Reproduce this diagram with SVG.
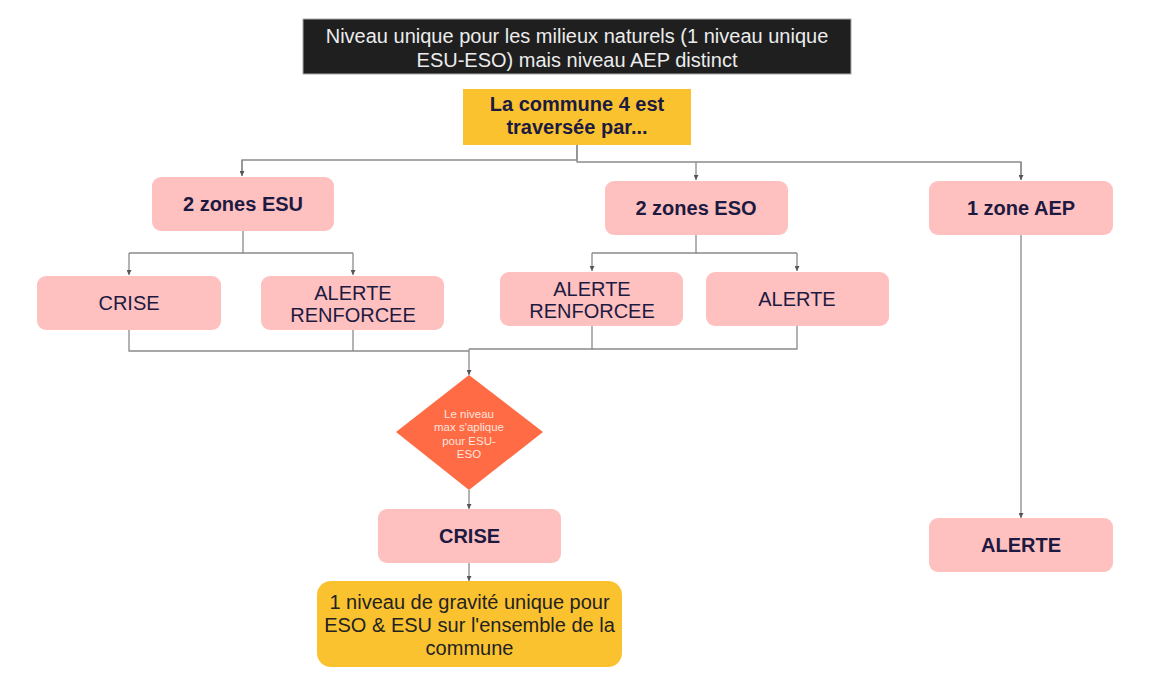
<svg xmlns="http://www.w3.org/2000/svg" width="1154" height="696" viewBox="0 0 1154 696">
<defs>
<marker id="arr" viewBox="0 0 10 10" refX="10" refY="5" markerWidth="5" markerHeight="5" markerUnits="userSpaceOnUse" orient="auto">
<path d="M0,0 L10,5 L0,10 Z" fill="#555"/>
</marker>
<style>
text{font-family:"Liberation Sans",Arial,sans-serif;font-size:20px;text-anchor:middle}
.pink{fill:#ffc0c0}
.nav{fill:#1c1a40}
.b{font-weight:bold}
.yel{fill:#fbc230}
.con{fill:none;stroke:#8a8a8a;stroke-width:1.3}
.arr{marker-end:url(#arr)}
</style>
</defs>
<rect width="1154" height="696" fill="#fff"/>
<g id="title">
<rect x="303" y="19" width="548" height="55" fill="#1f1f1f" stroke="#aaa" stroke-width="1"/>
<text x="577" y="43" fill="#ececec">Niveau unique pour les milieux naturels (1 niveau unique</text>
<text x="577" y="67" fill="#ececec">ESU-ESO) mais niveau AEP distinct</text>
</g>
<g id="connectors">
<path class="con" d="M577,145 V160 H242 V176"/>
<path class="con" d="M577,145 V162 H1021 V180"/>
<path class="con arr" d="M242,160 V176"/>
<path class="con arr" d="M696,162 V180"/>
<path class="con arr" d="M1021,162 V180"/>
<path class="con" d="M243,231 V253 H129"/>
<path class="con" d="M243,253 H353"/>
<path class="con arr" d="M129,253 V275"/>
<path class="con arr" d="M353,253 V275"/>
<path class="con" d="M696,235 V253 H592"/>
<path class="con" d="M696,253 H797"/>
<path class="con arr" d="M592,253 V271"/>
<path class="con arr" d="M797,253 V271"/>
<path class="con" d="M129,330 V351 H469"/>
<path class="con" d="M353,330 V351"/>
<path class="con" d="M592,326 V349 H469"/>
<path class="con" d="M797,326 V349 H592"/>
<path class="con arr" d="M469,349 V375"/>
<path class="con arr" d="M469,490 V509"/>
<path class="con arr" d="M469,563 V581"/>
<path class="con arr" d="M1021,235 V518"/>
</g>
<g id="commune">
<rect x="463" y="89" width="228" height="56" class="yel"/>
<text x="577" y="111" class="nav b">La commune 4 est</text>
<text x="577" y="134" class="nav b">traversée par...</text>
</g>
<g id="esu">
<rect x="152" y="177" width="182" height="54" rx="9" class="pink"/>
<text x="243" y="211" class="nav b">2 zones ESU</text>
</g>
<g id="eso">
<rect x="605" y="181" width="183" height="54" rx="9" class="pink"/>
<text x="696" y="215" class="nav b">2 zones ESO</text>
</g>
<g id="aep">
<rect x="929" y="181" width="184" height="54" rx="9" class="pink"/>
<text x="1021" y="215" class="nav b">1 zone AEP</text>
</g>
<g id="esu-crise">
<rect x="37" y="276" width="184" height="54" rx="9" class="pink"/>
<text x="129" y="310" class="nav">CRISE</text>
</g>
<g id="esu-alerte-renforcee">
<rect x="261" y="276" width="183" height="54" rx="9" class="pink"/>
<text x="353" y="300" class="nav">ALERTE</text>
<text x="353" y="322" class="nav">RENFORCEE</text>
</g>
<g id="eso-alerte-renforcee">
<rect x="500" y="272" width="183" height="54" rx="9" class="pink"/>
<text x="592" y="296" class="nav">ALERTE</text>
<text x="592" y="318" class="nav">RENFORCEE</text>
</g>
<g id="eso-alerte">
<rect x="706" y="272" width="183" height="54" rx="9" class="pink"/>
<text x="797" y="306" class="nav">ALERTE</text>
</g>
<g id="decision">
<polygon points="469,375 543,432 469,490 396,432" fill="#ff6b45"/>
<text x="469" y="417.5" fill="#fde4dc" style="font-size:11.5px">Le niveau</text>
<text x="469" y="431" fill="#fde4dc" style="font-size:11.5px">max s'aplique</text>
<text x="469" y="444.5" fill="#fde4dc" style="font-size:11.5px">pour ESU-</text>
<text x="469" y="458" fill="#fde4dc" style="font-size:11.5px">ESO</text>
</g>
<g id="crise">
<rect x="378" y="509" width="183" height="54" rx="9" class="pink"/>
<text x="469.5" y="543" class="nav b">CRISE</text>
</g>
<g id="aep-alerte">
<rect x="929" y="518" width="184" height="54" rx="9" class="pink"/>
<text x="1021" y="552" class="nav b">ALERTE</text>
</g>
<g id="result">
<rect x="317" y="581" width="305" height="86" rx="14" class="yel"/>
<text x="469.5" y="609" fill="#222">1 niveau de gravité unique pour</text>
<text x="469.5" y="632" fill="#222">ESO &amp; ESU sur l'ensemble de la</text>
<text x="469.5" y="655" fill="#222">commune</text>
</g>
</svg>
